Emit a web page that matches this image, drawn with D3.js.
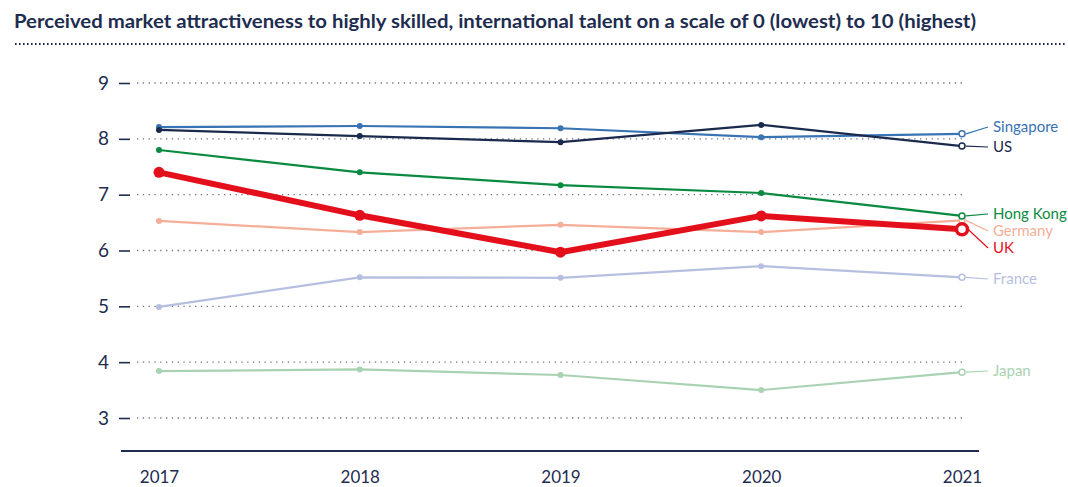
<!DOCTYPE html>
<html>
<head>
<meta charset="utf-8">
<script src="https://cdn.jsdelivr.net/npm/d3@7"></script>
<style>
  body { margin: 0; background: #fff; }
  svg text { font-family: Lato, "Noto Sans", sans-serif; }
</style>
</head>
<body>
<div id="chart"></div>
<script>
var years = [2017, 2018, 2019, 2020, 2021];
var yTicks = [3, 4, 5, 6, 7, 8, 9];

var singapore = [8.21, 8.23, 8.19, 8.03, 8.09];
var us        = [8.16, 8.05, 7.94, 8.25, 7.87];
var hongKong  = [7.80, 7.40, 7.17, 7.03, 6.62];
var germany   = [6.53, 6.33, 6.46, 6.33, 6.54];
var uk        = [7.40, 6.63, 5.97, 6.62, 6.38];
var france    = [4.99, 5.52, 5.51, 5.72, 5.52];
var japan     = [3.84, 3.87, 3.77, 3.50, 3.82];

var series = [
  { name: "Japan", values: japan, color: "#a9d2b2", labelY: 371 },
  { name: "France", values: france, color: "#b6bfe0", labelY: 279 },
  { name: "Germany", values: germany, color: "#f5ae98", labelY: 231 },
  { name: "Hong Kong", values: hongKong, color: "#0a8a40", labelY: 214 },
  { name: "Singapore", values: singapore, color: "#3873b3", labelY: 127 },
  { name: "US", values: us, color: "#1b2a4c", labelY: 147 },
  { name: "UK", values: uk, color: "#e3101c", labelY: 248, bold: true }
];

var svgWidth = 1068;
var svgHeight = 487;
var navy = "#1e2d4f";

var svg = d3.select("#chart")
  .append("svg")
  .attr("width", svgWidth)
  .attr("height", svgHeight);

// title + dotted rule
svg.append("text")
  .attr("x", 14)
  .attr("y", 28)
  .attr("fill", navy)
  .attr("font-weight", "bold")
  .attr("font-size", 19.5)
  .attr("textLength", 962)
  .attr("lengthAdjust", "spacingAndGlyphs")
  .text("Perceived market attractiveness to highly skilled, international talent on a scale of 0 (lowest) to 10 (highest)");

svg.append("line")
  .attr("x1", 15).attr("x2", 1066)
  .attr("y1", 44).attr("y2", 44)
  .attr("stroke", navy)
  .attr("stroke-width", 2.2)
  .attr("stroke-dasharray", "1.6 2.4");

var x = d3.scalePoint()
  .domain(years)
  .range([159, 962]);

var y = d3.scaleLinear()
  .domain([3, 9])
  .range([418, 83]);

// gridlines
svg.append("g")
  .selectAll("line")
  .data(yTicks)
  .enter()
  .append("line")
  .attr("x1", 137).attr("x2", 962)
  .attr("y1", d => y(d)).attr("y2", d => y(d))
  .attr("stroke", "#6b7385")
  .attr("stroke-width", 1.3)
  .attr("stroke-dasharray", "1.3 4.5");

// y axis
var leftAxis = d3.axisLeft(y).tickValues(yTicks).tickFormat(d3.format("d")).tickSize(11).tickPadding(10);
var yAxis = svg.append("g")
  .attr("transform", "translate(130,0)")
  .call(leftAxis);
yAxis.select(".domain").remove();
yAxis.selectAll(".tick line").attr("stroke", navy).attr("stroke-width", 1.6);
yAxis.selectAll(".tick text")
  .attr("fill", navy)
  .attr("font-size", 19)
  .style("font-family", "Lato, sans-serif");

// x axis
var bottomAxis = d3.axisBottom(x).tickSize(0).tickPadding(20);
var xAxis = svg.append("g")
  .attr("transform", "translate(0,451)")
  .call(bottomAxis);
xAxis.select(".domain")
  .attr("d", "M121,0H979")
  .attr("stroke", navy)
  .attr("stroke-width", 2);
xAxis.selectAll(".tick text")
  .attr("fill", navy)
  .attr("font-size", 17)
  .style("font-family", "Lato, sans-serif");

var line = d3.line()
  .x((d, i) => x(years[i]))
  .y(d => y(d));

var groups = svg.selectAll(".series")
  .data(series)
  .enter()
  .append("g")
  .attr("class", "series");

groups.append("path")
  .attr("d", d => line(d.values))
  .attr("fill", "none")
  .attr("stroke", d => d.color)
  .attr("stroke-width", d => d.bold ? 6 : 2.2)
  .attr("stroke-linejoin", "round");

groups.each(function(s) {
  var g = d3.select(this);
  var last = s.values.length - 1;
  g.selectAll("circle")
    .data(s.values)
    .enter()
    .append("circle")
    .attr("cx", (d, i) => x(years[i]))
    .attr("cy", d => y(d))
    .attr("r", (d, i) => s.bold ? 5.5 : 3)
    .attr("fill", (d, i) => i == last ? "#fff" : s.color)
    .attr("stroke", s.color)
    .attr("stroke-width", (d, i) => i == last ? (s.bold ? 3.5 : 1.5) : 0);

  // connector to label
  var ex = x(years[last]);
  var ey = y(s.values[last]);
  g.append("line")
    .attr("x1", ex + (s.bold ? 6 : 4)).attr("y1", ey)
    .attr("x2", 988).attr("y2", s.labelY)
    .attr("stroke", s.color)
    .attr("stroke-width", 1.2);

  g.append("text")
    .attr("x", 993)
    .attr("y", s.labelY)
    .attr("dy", "0.35em")
    .attr("fill", s.color)
    .attr("font-size", 15)
    .text(s.name);
});
</script>
</body>
</html>
